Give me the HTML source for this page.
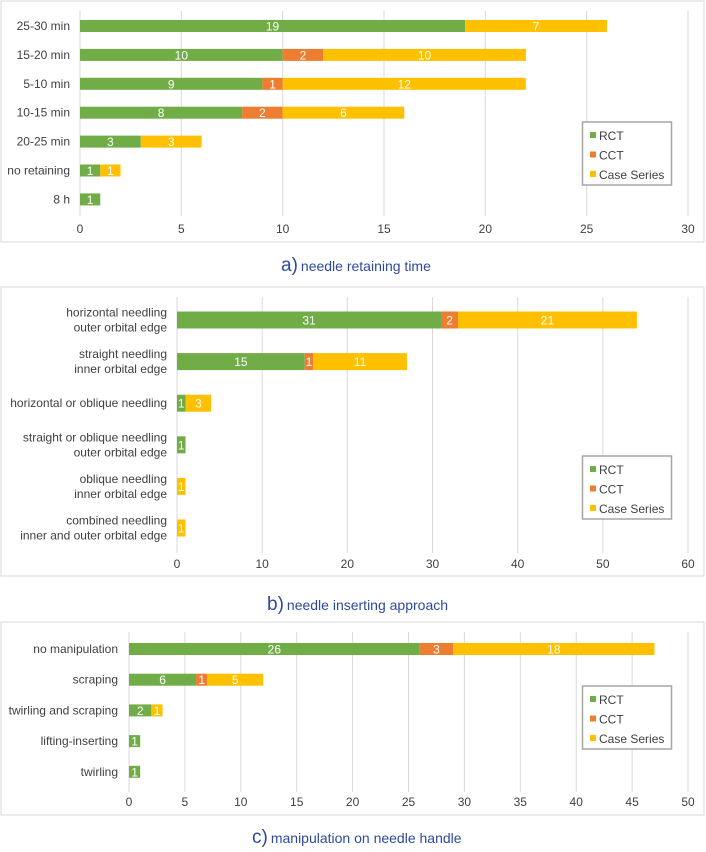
<!DOCTYPE html>
<html><head><meta charset="utf-8"><style>
body{margin:0;background:#fff;width:706px;height:847px;overflow:hidden;font-family:"Liberation Sans",sans-serif}
</style></head><body>
<svg id="s" width="706" height="847" xmlns="http://www.w3.org/2000/svg"></svg>
<script>
const catsA=["25-30 min","15-20 min","5-10 min","10-15 min","20-25 min","no retaining","8 h"];
const rctA=[19,10,9,8,3,1,1];
const cctA=[0,2,1,2,0,0,0];
const csA=[7,10,12,6,3,1,0];
const ticksA=[0,5,10,15,20,25,30];

const catsB=[["horizontal needling","outer orbital edge"],["straight needling","inner orbital edge"],["horizontal or oblique needling"],["straight or oblique needling","outer orbital edge"],["oblique needling","inner orbital edge"],["combined needling","inner and outer orbital edge"]];
const rctB=[31,15,1,1,0,0];
const cctB=[2,1,0,0,0,0];
const csB=[21,11,3,0,1,1];
const ticksB=[0,10,20,30,40,50,60];

const catsC=["no manipulation","scraping","twirling and scraping","lifting-inserting","twirling"];
const rctC=[26,6,2,1,1];
const cctC=[3,1,0,0,0];
const csC=[18,5,1,0,0];
const ticksC=[0,5,10,15,20,25,30,35,40,45,50];

const NS="http://www.w3.org/2000/svg";
const svg=document.getElementById('s');
const colors=["#70ad47","#ed7d31","#ffc000"];
const names=["RCT","CCT","Case Series"];
function el(t,a,p){const e=document.createElementNS(NS,t);for(const k in a)e.setAttribute(k,a[k]);(p||svg).appendChild(e);return e;}

function panel(cfg){
  const g=el('g',{});
  
  
  const box=el('rect',{x:1,y:cfg.boxTop,width:703,height:cfg.boxBot-cfg.boxTop,fill:'#fff',stroke:'#d9d9d9','stroke-width':1},g);
  
  
  const max=cfg.ticks[cfg.ticks.length-1];
  const xs=v=>cfg.x0+(cfg.x1-cfg.x0)*v/max;
  const ys=i=>cfg.yc0+cfg.step*i;
  cfg.ticks.forEach(t=>{
    const l=el('line',{x1:xs(t),x2:xs(t),y1:cfg.gTop,y2:cfg.gBot,stroke:'#d9d9d9','stroke-width':1},g);
    
    
    const tx=el('text',{x:xs(t),y:cfg.tickY,'text-anchor':'middle','font-size':12,fill:'#404040'},g);
    tx.textContent=t;
    
    
  });
  cfg.cats.forEach((c,i)=>{
    const y=ys(i);
    const lines=Array.isArray(c)?c:[c];
    const tx=el('text',{x:cfg.labR,y:y+4-(lines.length-1)*7.5,'text-anchor':'end','font-size':12,fill:'#404040'},g);
    lines.forEach((ln,j)=>{const ts=el('tspan',{x:cfg.labR,dy:j?15:0},tx);ts.textContent=ln;});
    
    
    let acc=0;
    [cfg.r,cfg.c,cfg.s].forEach((arr,k)=>{
      const v=arr[i]; if(!v) return;
      const r=el('rect',{x:xs(acc),y:y-cfg.bh/2,width:xs(acc+v)-xs(acc),height:cfg.bh,fill:colors[k]},g);
      
      
      const t=el('text',{x:(xs(acc)+xs(acc+v))/2,y:y+4.5,'text-anchor':'middle','font-size':12,fill:'#fff'},g);
      t.textContent=v;
      
      
      acc+=v;
    });
  });
  const lg=el('g',{},g);
  
  
  el('rect',{x:582.5,y:cfg.legTop,width:89,height:63,fill:'#fff',stroke:'#a6a6a6','stroke-width':1.5},lg);
  names.forEach((n,k)=>{
    const yy=cfg.legTop+14+k*19.5;
    const sq=el('rect',{x:590,y:yy-4,width:6,height:6,fill:colors[k]},lg);
    
    
    const t=el('text',{x:599,y:yy+4,'font-size':12,fill:'#404040'},lg);
    t.textContent=n;
    
    
  });
  const cap=el('text',{x:cfg.capX,y:cfg.capY,'font-size':14,fill:'#2e4a9e'},g);
  const a=el('tspan',{'font-size':19},cap);a.textContent=cfg.capL+')';
  const b=el('tspan',{dx:3},cap);b.textContent=cfg.cap;
  
  
}
panel({id:'a',cats:catsA,r:rctA,c:cctA,s:csA,ticks:ticksA,boxTop:1,boxBot:242,x0:80,x1:688,yc0:26,step:28.9,bh:12,gTop:11,gBot:216,tickY:233,labR:70,legTop:122,capX:281,capY:271,capL:'a',cap:'needle retaining time'});
panel({id:'b',cats:catsB,r:rctB,c:cctB,s:csB,ticks:ticksB,boxTop:287,boxBot:576,x0:177,x1:688,yc0:320,step:41.6,bh:17,gTop:297,gBot:553,tickY:568,labR:167,legTop:456,capX:267,capY:610,capL:'b',cap:'needle inserting approach'});
panel({id:'c',cats:catsC,r:rctC,c:cctC,s:csC,ticks:ticksC,boxTop:622,boxBot:815,x0:129,x1:688,yc0:649,step:30.7,bh:12,gTop:632,gBot:792,tickY:806,labR:118,legTop:686,capX:252,capY:843,capL:'c',cap:'manipulation on needle handle'});
</script>
</body></html>
